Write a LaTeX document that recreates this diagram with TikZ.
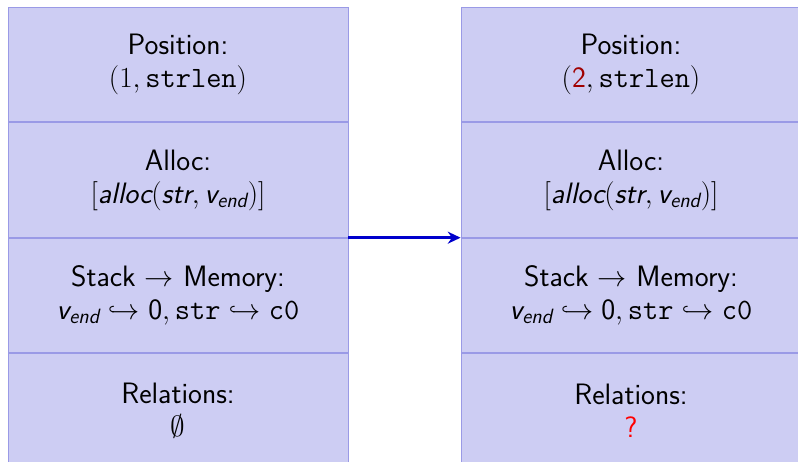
\documentclass[tikz,border=0pt]{standalone}
\usepackage{amsmath,amssymb}
\usepackage{xcolor}
\usepackage{tikz}
\usetikzlibrary{arrows.meta,positioning}
\definecolor{cellFill}{HTML}{CDCDF3}
\definecolor{cellLine}{HTML}{9A9AE6}
\definecolor{newRed}{HTML}{A00000}
\newcommand{\vend}{\textit{v}_{\textit{end}}}

\begin{document}
\begin{tikzpicture}[
  font=\sffamily\fontsize{21}{23.5}\selectfont,
  cell/.style={draw=cellLine, fill=cellFill, line width=0.6pt, minimum width=8.5cm, minimum height=2.8625cm, align=center, inner sep=0pt},
  step arrow/.style={-{Stealth[length=3.2mm,width=3mm]}, line width=1.7pt, color=blue!80!black}
]
\useasboundingbox (0,0) rectangle (19.95,-11.55);
% state before
\node[cell, anchor=north] (pos1) at (4.45,-0.175) {Position:\\$(1, \texttt{strlen})$};
\node[cell, below=0pt of pos1] (alloc1) {Alloc:\\$[\textit{alloc}(\textit{str}, \vend)]$};
\node[cell, below=0pt of alloc1] (stack1) {Stack $\rightarrow$ Memory:\\$\vend \hookrightarrow \textsf{0}, \texttt{str} \hookrightarrow \texttt{c0}$};
\node[cell, below=0pt of stack1] (rel1) {Relations:\\$\emptyset$};
% state after
\node[cell, anchor=north] (pos2) at (15.775,-0.175) {Position:\\$(\textcolor{newRed}{\textsf{2}}, \texttt{strlen})$};
\node[cell, below=0pt of pos2] (alloc2) {Alloc:\\$[\textit{alloc}(\textit{str}, \vend)]$};
\node[cell, below=0pt of alloc2] (stack2) {Stack $\rightarrow$ Memory:\\$\vend \hookrightarrow \textsf{0}, \texttt{str} \hookrightarrow \texttt{c0}$};
\node[cell, below=0pt of stack2] (rel2) {Relations:\\\textcolor{red}{?}};
% transition
\draw[step arrow] (stack1.north east) -- (stack2.north west);
\end{tikzpicture}
\end{document}
